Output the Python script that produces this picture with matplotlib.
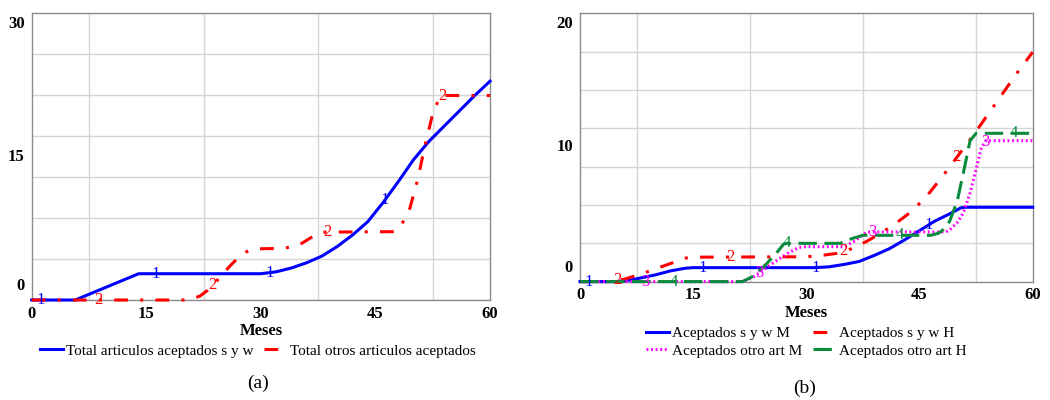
import matplotlib
matplotlib.use('Agg')
import matplotlib.pyplot as plt
import numpy as np
from matplotlib.pyplot import rcParams

# ---- datos ----
meses_a1 = [0, 5.7, 14, 30, 32, 34, 36, 38, 40, 42, 44, 46, 48, 50, 52, 54, 56, 58, 60]
total_sw = [0, 0, 2.75, 2.75, 2.95, 3.35, 3.9, 4.6, 5.6, 6.8, 8.2, 10.2, 12.4, 14.7, 16.6, 18.2, 19.8, 21.4, 22.9]

meses_a2 = [0, 20.5, 22, 23, 24, 25, 26, 27, 28, 29, 33, 35, 36.5, 38, 47.5, 48.5, 49.5, 50.5, 51.5, 52.5, 53.5, 60]
total_otros = [0, 0, 0.4, 1.0, 1.8, 2.7, 3.6, 4.4, 5.0, 5.35, 5.4, 5.75, 6.5, 7.1, 7.15, 8.0, 9.6, 12.5, 16.2, 19.5, 21.4, 21.4]

meses_b1 = [0, 5, 7, 10, 12, 14, 15, 31, 33, 35, 37, 39, 41, 43, 45, 47, 49, 50.5, 51, 60]
acept_sw_m = [0, 0, 0.15, 0.5, 0.8, 1.0, 1.04, 1.04, 1.1, 1.28, 1.5, 1.95, 2.45, 3.1, 3.8, 4.5, 5.05, 5.5, 5.54, 5.54]

meses_b2 = [0, 4, 6, 8, 10, 12, 14, 15, 30, 32, 34, 36, 38, 40, 42, 44, 46, 48, 50, 52, 54, 56, 58, 60]
acept_sw_h = [0, 0, 0.2, 0.55, 0.95, 1.35, 1.75, 1.82, 1.85, 1.95, 2.1, 2.45, 3.0, 3.65, 4.4, 5.25, 6.4, 7.8, 9.3, 10.8, 12.4, 14.0, 15.6, 17.1]

meses_b3 = [0, 21.5, 23, 24.5, 26, 27.5, 29, 30, 35, 36.5, 38, 48.5, 49, 50, 50.8, 51.7, 52.6, 53.2, 53.8, 60]
acept_otro_m = [0, 0, 0.35, 0.95, 1.55, 2.1, 2.55, 2.6, 2.6, 3.05, 3.7, 3.7, 3.85, 4.4, 5.1, 6.6, 8.6, 10.0, 10.5, 10.5]

meses_b4 = [0, 21.5, 23, 24.5, 26, 27, 27.5, 34.5, 36, 37.5, 46.5, 47.5, 48, 49, 50, 51, 51.7, 52.5, 60]
acept_otro_h = [0, 0, 0.4, 1.2, 2.1, 2.8, 2.85, 2.85, 3.2, 3.45, 3.45, 3.6, 3.8, 4.5, 6.0, 8.6, 10.5, 11.05, 11.05]

x_ticks = [0, 15, 30, 45, 60]

BLUE = '#0000ff'
RED = '#ff0000'
MAGENTA = '#ff00ff'
GREEN = '#0a8a3c'


def draw_panel(ax, series, y_max, y_labels):
    n = len(series)
    for k, (x, y, color, dashes, label) in enumerate(series):
        line, = ax.plot(x, y, color=color, lw=2.2, label=label, clip_on=False, zorder=3 + k)
        if dashes is not None:
            line.set_dashes(dashes)
        # numeros de la serie sobre la curva
        num_x = np.arange(1.2 + k * 15 / n, 60, 15)
        num_y = np.interp(num_x, x, y)
        for xx, yy in zip(num_x, num_y):
            ax.text(xx, yy, str(k + 1), color=color, fontsize=12, ha='center', va='center', zorder=10)

    ax.set_xlim(0, 60)
    ax.set_ylim(0, y_max)

    # rejilla
    ax.set_xticks(np.linspace(0, 60, 9), minor=True)
    ax.set_yticks(np.linspace(0, y_max, 8), minor=True)
    ax.grid(which='minor', color='#d4d4d4', lw=1)
    ax.set_axisbelow(True)
    ax.tick_params(which='both', length=0)

    ax.set_xticks(x_ticks)
    ax.set_xticklabels([str(t) for t in x_ticks], fontweight='bold', fontsize=12)
    ax.tick_params(axis='x', pad=4)
    ax.set_yticks([])

    # etiquetas del eje y al estilo Vensim
    offsets = [(-5, 4, 'bottom'), (-5, 0, 'center'), (-5, -2, 'top')]
    for val, (dx, dy, va) in zip(y_labels, offsets):
        ax.annotate(str(val), xy=(0, val), xycoords=('axes fraction', 'data'),
                    xytext=(dx, dy), textcoords='offset points',
                    ha='right', va=va, fontweight='bold', fontsize=12)

    for s in ax.spines.values():
        s.set_color('#8c8c8c')
        s.set_linewidth(1)

    ax.set_xlabel('Meses', fontweight='bold', fontsize=12, labelpad=1)


if __name__ == '__main__':
    config = {
        "font.family": ['Liberation Serif', 'DejaVu Serif'],
        "font.size": 12,
    }
    rcParams.update(config)

    fig = plt.figure(figsize=(10.5, 4), dpi=100)
    ax_a = fig.add_axes([0.0302, 0.25, 0.4365, 0.7167])
    ax_b = fig.add_axes([0.5524, 0.296, 0.4311, 0.671])

    series_a = [
        (meses_a1, total_sw, BLUE, None, 'Total articulos aceptados s y w'),
        (meses_a2, total_otros, RED, (4.5, 4, 1, 4), 'Total otros articulos aceptados'),
    ]
    draw_panel(ax_a, series_a, 30, [0, 15, 30])

    series_b = [
        (meses_b1, acept_sw_m, BLUE, None, 'Aceptados s y w M'),
        (meses_b2, acept_sw_h, RED, (4.5, 4, 1, 4), 'Aceptados s y w H'),
        (meses_b3, acept_otro_m, MAGENTA, (0.6, 0.9), 'Aceptados otro art M'),
        (meses_b4, acept_otro_h, GREEN, (6, 2.5), 'Aceptados otro art H'),
    ]
    draw_panel(ax_b, series_b, 20, [0, 10, 20])

    h, l = ax_a.get_legend_handles_labels()
    fig.legend(h, l, loc='center', bbox_to_anchor=(258 / 1050, 1 - 351 / 400), ncols=2,
               frameon=False, fontsize=11, handlelength=1.5, handletextpad=0.2,
               columnspacing=0.7, borderpad=0)

    h, l = ax_b.get_legend_handles_labels()
    order = [0, 2, 1, 3]
    fig.legend([h[i] for i in order], [l[i] for i in order], loc='center',
               bbox_to_anchor=(806 / 1050, 1 - 342 / 400), ncols=2,
               frameon=False, fontsize=11, handlelength=1.5, handletextpad=0.2,
               columnspacing=0.7, borderpad=0, labelspacing=0.25)

    fig.text(258 / 1050, 1 - 383 / 400, '(a)', ha='center', va='center', fontsize=14)
    fig.text(805 / 1050, 1 - 388 / 400, '(b)', ha='center', va='center', fontsize=14)

    plt.savefig('out.png', dpi=100)
